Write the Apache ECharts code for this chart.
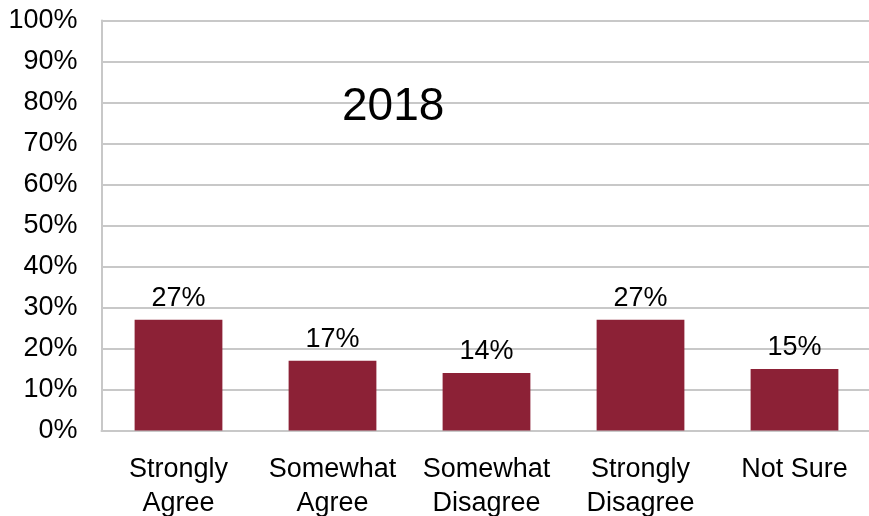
<!DOCTYPE html>
<html>
<head>
<meta charset="utf-8">
<script src="https://cdn.jsdelivr.net/npm/echarts@6/dist/echarts.min.js"></script>
<style>
  html, body { margin: 0; padding: 0; background: #fff; overflow: hidden; }
  #chart { width: 869px; height: 516px; }
</style>
</head>
<body>
<div id="chart"></div>
<script>
// Survey responses, share of respondents (%)
const categories = ['Strongly\nAgree', 'Somewhat\nAgree', 'Somewhat\nDisagree', 'Strongly\nDisagree', 'Not Sure'];
const shares = [27, 17, 14, 27, 15];
const yearTitle = '2018';

const font = '"Liberation Sans", Arial, Helvetica, sans-serif';

const chart = echarts.init(document.getElementById('chart'), null, { renderer: 'canvas' });
chart.setOption({
  animation: false,
  backgroundColor: '#ffffff',
  title: {
    text: yearTitle,
    left: 337,
    top: 79,
    textStyle: { fontFamily: font, fontSize: 46, fontWeight: 'normal', color: '#000' }
  },
  grid: {
    left: 101.5, right: -2.5, top: 20.5, bottom: 85.5,
    containLabel: false,
    outerBoundsMode: 'none'
  },
  xAxis: {
    type: 'category',
    data: categories,
    axisLine: { show: true, lineStyle: { color: '#c8c8c8', width: 2 } },
    axisTick: { show: false },
    axisLabel: {
      margin: 22,
      fontFamily: font,
      fontSize: 27,
      lineHeight: 34,
      color: '#000',
      interval: 0
    }
  },
  yAxis: {
    type: 'value',
    min: 0,
    max: 100,
    interval: 10,
    axisLine: { show: true, lineStyle: { color: '#c8c8c8', width: 2 } },
    axisTick: { show: false },
    splitLine: { show: true, lineStyle: { color: '#c8c8c8', width: 2 } },
    axisLabel: {
      margin: 24,
      fontFamily: font,
      fontSize: 27,
      color: '#000',
      formatter: '{value}%'
    }
  },
  series: [{
    type: 'bar',
    data: shares,
    barWidth: '57%',
    itemStyle: { color: '#8c2136' },
    label: {
      show: true,
      position: 'top',
      distance: 8,
      fontFamily: font,
      fontSize: 27,
      color: '#000',
      formatter: '{c}%'
    }
  }]
});
</script>
</body>
</html>
